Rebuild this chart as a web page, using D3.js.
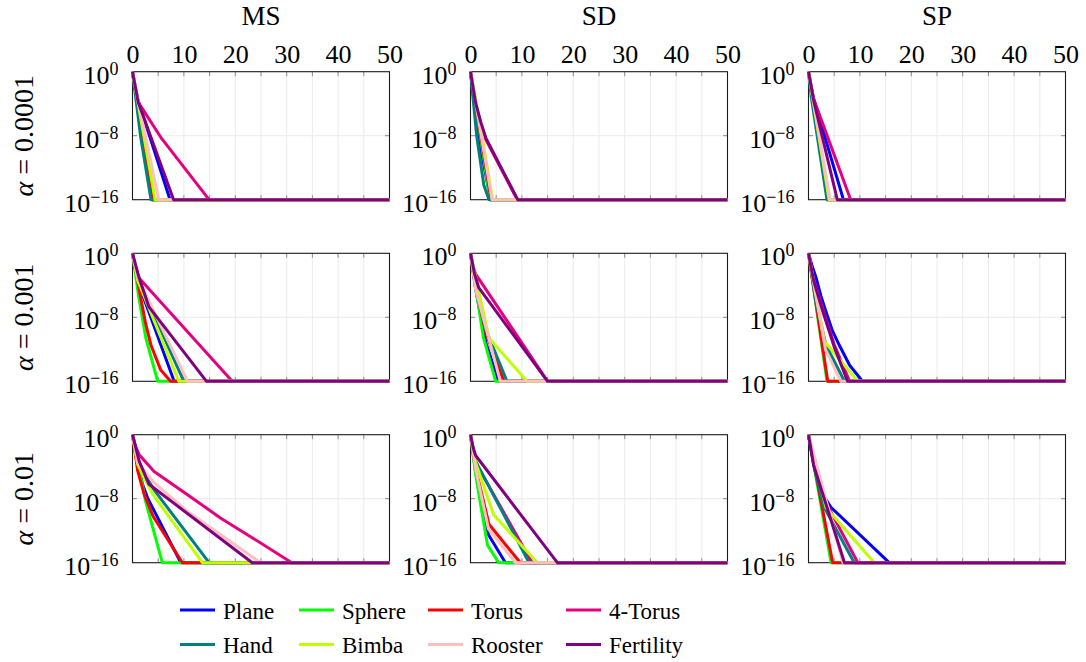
<!DOCTYPE html>
<html>
<head>
<meta charset="utf-8">
<script src="https://cdn.jsdelivr.net/npm/d3@7"></script>
</head>
<body style="margin:0">
<svg id="chart" width="1086" height="662"></svg>
<script>
// Methods (columns) and step sizes (rows)
const methods = ["MS", "SD", "SP"];
const alphas = ["0.0001", "0.001", "0.01"];

// Meshes, in plotting / legend order
const seriesNames = ["Plane", "Sphere", "Torus", "4-Torus", "Hand", "Bimba", "Rooster", "Fertility"];
const seriesColors = ["#0000ff", "#00ff00", "#ff0000", "#e6007e", "#008080", "#bfff00", "#ffbfbf", "#800080"];

const xTickLabels = [0, 10, 20, 30, 40, 50];
const xGridValues = [5, 10, 15, 20, 25, 30, 35, 40, 45];
const yTickExponents = [0, -8, -16];

const FONT = '"Liberation Serif", monospace';

// Residual histories: [iteration, log10(residual)], one array per mesh (seriesNames order)
const ms_a0001 = [
  [[0,0],[1,-3.4],[7.3,-16],[50,-16]],
  [[0,0],[3.8,-16],[50,-16]],
  [[0,0],[3.9,-16],[50,-16]],
  [[0,0],[0.5,-2.2],[1.1,-3.8],[5.5,-8.2],[14.9,-16],[50,-16]],
  [[0,0],[1.6,-8.2],[3.6,-16],[50,-16]],
  [[0,0],[4.4,-16],[50,-16]],
  [[0,0],[1,-3.4],[5.1,-16],[50,-16]],
  [[0,0],[1.1,-3.8],[8,-16],[50,-16]]
];
const sd_a0001 = [
  [[0,0],[1.5,-8],[3.9,-16],[50,-16]],
  [[0,0],[3.8,-16],[50,-16]],
  [[0,0],[4,-16],[50,-16]],
  [[0,0],[1,-4],[2,-6.5],[3,-8.5],[9.1,-16],[50,-16]],
  [[0,0],[1.2,-8],[2.6,-14.2],[3.6,-16],[50,-16]],
  [[0,0],[1.2,-4],[4.3,-16],[50,-16]],
  [[0,0],[4.2,-16],[50,-16]],
  [[0,0],[1,-3.9],[2,-6.3],[3,-8.3],[9.2,-16],[50,-16]]
];
const sp_a0001 = [
  [[0,0],[1,-3.4],[6.8,-16],[50,-16]],
  [[0,0],[3.7,-16],[50,-16]],
  [[0,0],[3.8,-16],[50,-16]],
  [[0,0],[0.6,-2.6],[1.3,-3.9],[8.2,-16],[50,-16]],
  [[0,0],[0.5,-3],[3.6,-16],[50,-16]],
  [[0,0],[4,-16],[50,-16]],
  [[0,0],[4.2,-16],[50,-16]],
  [[0,0],[1,-3.6],[5.6,-16],[50,-16]]
];

const ms_a001 = [
  [[0,0],[1,-3.5],[8.1,-16],[50,-16]],
  [[0,0],[1.2,-5.4],[2.6,-10.6],[4.9,-16],[50,-16]],
  [[0,0],[1.5,-5.2],[2.5,-8.6],[3.6,-11.5],[5.5,-14.6],[7.4,-16],[50,-16]],
  [[0,0],[0.5,-1.9],[1,-2.9],[19.4,-16],[50,-16]],
  [[0,0],[1,-3.2],[10,-16],[50,-16]],
  [[0,0],[1,-3.4],[9,-16],[50,-16]],
  [[0,0],[1,-3],[10.7,-16],[50,-16]],
  [[0,0],[1.3,-3.1],[3.2,-6.7],[14.4,-16],[50,-16]]
];
const sd_a001 = [
  [[0,0],[1,-4.5],[3,-11.2],[5.5,-16],[50,-16]],
  [[0,0],[2.5,-10.5],[4.9,-16],[50,-16]],
  [[0,0],[1,-4.2],[3,-10],[6.5,-16],[50,-16]],
  [[0,0],[0.5,-1.7],[1,-2.6],[15,-16],[50,-16]],
  [[0,0],[1,-4],[2.9,-9.4],[7.1,-16],[50,-16]],
  [[0,0],[3.6,-10.6],[11,-16],[50,-16]],
  [[0,0],[1,-4.5],[5.8,-16],[50,-16]],
  [[0,0],[0.8,-2.6],[1.6,-4.3],[15,-16],[50,-16]]
];
const sp_a001 = [
  [[0,0],[0.7,-1.6],[1.5,-3.1],[2.4,-5.3],[3.4,-7.3],[4.6,-9.6],[6,-11.5],[8,-14],[10.5,-16],[50,-16]],
  [[0,0],[3.6,-16],[50,-16]],
  [[0,0],[3.75,-16],[50,-16]],
  [[0,0],[1,-3.2],[2,-5.3],[2.9,-7.2],[5,-11.4],[8,-16],[50,-16]],
  [[0,0],[1.5,-6.2],[3.4,-11.5],[7,-16],[50,-16]],
  [[0,0],[3.1,-11],[9.6,-16],[50,-16]],
  [[0,0],[3.3,-12],[6.3,-16],[50,-16]],
  [[0,0],[1,-3.4],[2,-5.6],[2.8,-7.3],[5,-11.7],[7.6,-16],[50,-16]]
];

const ms_a01 = [
  [[0,0],[1,-3.8],[2,-6.3],[3,-8],[9.4,-16],[50,-16]],
  [[0,0],[2.5,-8.2],[5.8,-16],[50,-16]],
  [[0,0],[1,-4.5],[2.3,-7.5],[4,-10.2],[9.7,-16],[50,-16]],
  [[0,0],[0.6,-1.5],[1.3,-2.5],[4.2,-4.6],[10.7,-7.5],[17.1,-10.4],[23.6,-13],[31,-16],[50,-16]],
  [[0,0],[1,-3.5],[4.2,-6.9],[14.9,-16],[50,-16]],
  [[0,0],[1,-3.7],[4,-7.5],[13.6,-16],[50,-16]],
  [[0,0],[1,-3.5],[4.2,-6],[10.7,-9.6],[24.9,-16],[50,-16]],
  [[0,0],[1.3,-3.3],[3.2,-6.2],[23.3,-16],[50,-16]]
];
const sd_a01 = [
  [[0,0],[1,-4.6],[3.5,-12.5],[6.8,-16],[50,-16]],
  [[0,0],[1,-5],[3.3,-13.8],[5.5,-16],[50,-16]],
  [[0,0],[1,-4.2],[3.6,-11.2],[9.7,-16],[50,-16]],
  [[0,0],[1,-3.5],[12,-16],[50,-16]],
  [[0,0],[1,-3.3],[11.4,-16],[50,-16]],
  [[0,0],[1,-3.5],[4.5,-10],[13,-16],[50,-16]],
  [[0,0],[1,-4.3],[3.5,-11.8],[8.8,-16],[50,-16]],
  [[0,0],[0.5,-1.6],[1,-2.6],[16.9,-16],[50,-16]]
];
const sp_a01 = [
  [[0,0],[1,-3.2],[2,-5.8],[3,-7.7],[4.4,-9.1],[15.7,-16],[50,-16]],
  [[0,0],[4.4,-16],[50,-16]],
  [[0,0],[4.7,-16],[50,-16]],
  [[0,0],[1,-3.4],[3,-8],[9.6,-16],[50,-16]],
  [[0,0],[1,-3.8],[3,-9],[8.9,-16],[50,-16]],
  [[0,0],[3.4,-9.1],[12.8,-16],[50,-16]],
  [[0,0],[6.7,-16],[50,-16]],
  [[0,0],[1,-3.8],[7,-16],[50,-16]]
];

// Grid of panels: rows = alpha, columns = method
const panelData = [
  [ms_a0001, sd_a0001, sp_a0001],
  [ms_a001,  sd_a001,  sp_a001],
  [ms_a01,   sd_a01,   sp_a01]
];

// Layout
const panelW = 257, panelH = 128;
const colLeft = [132.5, 470.5, 808.5];
const rowTop = [71.7, 253.3, 434.7];

const svg = d3.select("#chart");

const x = d3.scaleLinear().domain([0, 50]).range([0, panelW]);
const y = d3.scaleLog().domain([1e-16, 1]).range([panelH, 0]);

const line = d3.line()
  .x(d => x(d[0]))
  .y(d => y(Math.pow(10, d[1])));

function label(sel, size) {
  return sel.style("font-family", FONT).style("font-size", size + "px");
}

// Column titles
methods.forEach((m, c) => {
  label(svg.append("text"), 27)
    .attr("x", colLeft[c] + panelW / 2)
    .attr("y", 25)
    .attr("text-anchor", "middle")
    .text(m);
});

// Row labels
alphas.forEach((a, r) => {
  const t = label(svg.append("text"), 28)
    .attr("transform", `translate(33,${rowTop[r] + panelH / 2}) rotate(-90)`)
    .attr("text-anchor", "middle");
  t.append("tspan").style("font-style", "italic").text("α");
  t.append("tspan").text(" = " + a);
});

panelData.forEach((rowSets, r) => {
  rowSets.forEach((sets, c) => {
    const g = svg.append("g").attr("transform", `translate(${colLeft[c]},${rowTop[r]})`);

    // grid
    g.selectAll("line.gx").data(xGridValues).join("line")
      .attr("x1", d => x(d)).attr("x2", d => x(d))
      .attr("y1", 0).attr("y2", panelH)
      .attr("stroke", "#ececec").attr("stroke-width", 1);
    g.append("line")
      .attr("x1", 0).attr("x2", panelW)
      .attr("y1", y(1e-8)).attr("y2", y(1e-8))
      .attr("stroke", "#ececec").attr("stroke-width", 1);

    // tick marks on all four sides
    g.selectAll("line.tt").data(xGridValues).join("line")
      .attr("x1", d => x(d)).attr("x2", d => x(d))
      .attr("y1", 0).attr("y2", 4.5)
      .attr("stroke", "#8c8c8c").attr("stroke-width", 1);
    g.selectAll("line.tb").data(xGridValues).join("line")
      .attr("x1", d => x(d)).attr("x2", d => x(d))
      .attr("y1", panelH - 4.5).attr("y2", panelH)
      .attr("stroke", "#8c8c8c").attr("stroke-width", 1);
    [[0, 4.5], [panelW - 4.5, panelW]].forEach(([a, b]) => {
      g.append("line")
        .attr("x1", a).attr("x2", b)
        .attr("y1", y(1e-8)).attr("y2", y(1e-8))
        .attr("stroke", "#8c8c8c").attr("stroke-width", 1);
    });

    // frame
    g.append("rect")
      .attr("x", 0).attr("y", 0).attr("width", panelW).attr("height", panelH)
      .attr("fill", "none").attr("stroke", "#1a1a1a").attr("stroke-width", 1.1);

    // convergence curves
    g.selectAll("path.curve").data(sets).join("path")
      .attr("class", "curve")
      .attr("d", line)
      .attr("fill", "none")
      .attr("stroke", (d, i) => seriesColors[i])
      .attr("stroke-width", 3)
      .attr("stroke-linejoin", "round");

    // y tick labels 10^k
    yTickExponents.forEach(e => {
      const t = label(g.append("text"), 26)
        .attr("x", -14)
        .attr("y", y(Math.pow(10, e)) + 12)
        .attr("text-anchor", "end");
      t.append("tspan").text("10");
      t.append("tspan")
        .attr("dy", -9)
        .style("font-size", "18px")
        .text(e === 0 ? "0" : "\u2212" + Math.abs(e));
    });

    // x tick labels only along the top row
    if (r === 0) {
      const ax = g.append("g").call(
        d3.axisTop(x).tickValues(xTickLabels).tickSize(0).tickPadding(9).tickFormat(d3.format("d"))
      );
      ax.attr("font-family", null).attr("font-size", null);
      ax.select(".domain").remove();
      label(ax.selectAll("text"), 26).attr("fill", "#000");
    }
  });
});

// Legend, 4 columns x 2 rows
const legendLineX = [180, 299, 428, 566];
const legendRowY = [610, 644.5];
seriesNames.forEach((name, i) => {
  const cx = legendLineX[i % 4];
  const cy = legendRowY[Math.floor(i / 4)];
  svg.append("line")
    .attr("x1", cx).attr("x2", cx + 35)
    .attr("y1", cy).attr("y2", cy)
    .attr("stroke", seriesColors[i]).attr("stroke-width", 3);
  label(svg.append("text"), 23)
    .attr("x", cx + 43)
    .attr("y", cy + 8.5)
    .text(name);
});
</script>
</body>
</html>
